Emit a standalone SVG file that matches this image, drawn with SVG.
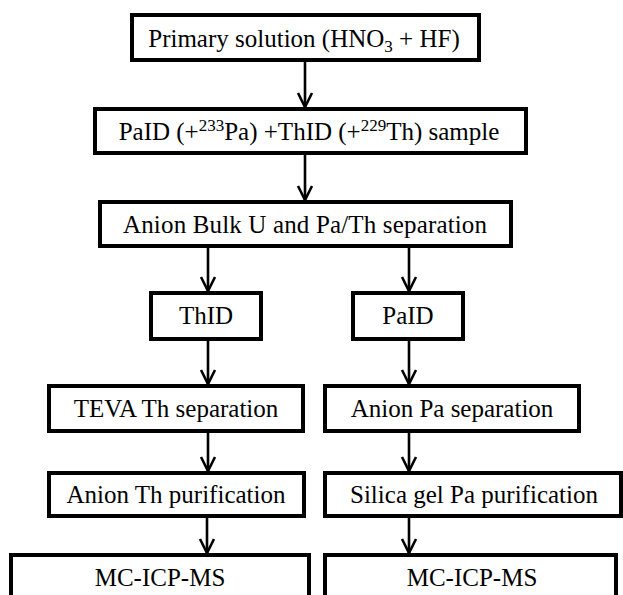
<svg xmlns="http://www.w3.org/2000/svg" width="623" height="595" viewBox="0 0 623 595">
<style>
.box{fill:#fff;stroke:#000;stroke-width:4}
.t{font-family:'Liberation Serif','Times New Roman','DejaVu Serif',serif;font-size:25px;fill:#000;text-anchor:middle}
.s{font-size:17px}
.c{stroke:#000;stroke-width:2.6;fill:none}
</style>
<defs>
<marker id="ah" markerUnits="userSpaceOnUse" markerWidth="20" markerHeight="20" refX="15" refY="8" orient="auto" overflow="visible">
<path d="M1,1 L15,8 L1,15" fill="none" stroke="#000" stroke-width="2.6"/>
</marker>
</defs>
<rect width="623" height="595" fill="#fff"/>
<g id="connectors">
<line class="c" x1="305" y1="62" x2="305" y2="107" marker-end="url(#ah)"/>
<line class="c" x1="305" y1="155" x2="305" y2="200" marker-end="url(#ah)"/>
<line class="c" x1="208" y1="248" x2="208" y2="291" marker-end="url(#ah)"/>
<line class="c" x1="409" y1="248" x2="409" y2="291" marker-end="url(#ah)"/>
<line class="c" x1="208" y1="341" x2="208" y2="384" marker-end="url(#ah)"/>
<line class="c" x1="409" y1="341" x2="409" y2="384" marker-end="url(#ah)"/>
<line class="c" x1="208" y1="433" x2="208" y2="471" marker-end="url(#ah)"/>
<line class="c" x1="409" y1="433" x2="409" y2="471" marker-end="url(#ah)"/>
<line class="c" x1="207" y1="518" x2="207" y2="553" marker-end="url(#ah)"/>
<line class="c" x1="409" y1="518" x2="409" y2="553" marker-end="url(#ah)"/>
</g>
<g id="n1"><rect class="box" x="132" y="15" width="347" height="45"/>
<text class="t" font-family="Liberation Serif, serif" x="304" y="46.5">Primary solution (HNO<tspan class="s" dy="5">3</tspan><tspan dy="-5"> + HF)</tspan></text></g>
<g id="n2"><rect class="box" x="95" y="109" width="431" height="44"/>
<text class="t" x="309" y="140">PaID (+<tspan class="s" dy="-9">233</tspan><tspan dy="9">Pa) +ThID (+</tspan><tspan class="s" dy="-9">229</tspan><tspan dy="9">Th) sample</tspan></text></g>
<g id="n3"><rect class="box" x="100" y="202" width="411" height="44"/>
<text class="t" x="305" y="232.5" textLength="364" lengthAdjust="spacing">Anion Bulk U and Pa/Th separation</text></g>
<g id="n4"><rect class="box" x="151" y="293" width="110" height="46"/>
<text class="t" x="206" y="324">ThID</text></g>
<g id="n5"><rect class="box" x="353" y="293" width="110" height="46"/>
<text class="t" x="408" y="324">PaID</text></g>
<g id="n6"><rect class="box" x="49" y="386" width="254" height="45"/>
<text class="t" x="176" y="417">TEVA Th separation</text></g>
<g id="n7"><rect class="box" x="325" y="386" width="254" height="45"/>
<text class="t" x="452" y="417">Anion Pa separation</text></g>
<g id="n8"><rect class="box" x="49" y="473" width="255" height="43"/>
<text class="t" x="176" y="503">Anion Th purification</text></g>
<g id="n9"><rect class="box" x="325" y="473" width="296" height="43"/>
<text class="t" x="474" y="503" textLength="248" lengthAdjust="spacing">Silica  gel Pa purification</text></g>
<g id="n10"><rect class="box" x="11" y="555" width="298" height="60"/>
<text class="t" x="160" y="586">MC-ICP-MS</text></g>
<g id="n11"><rect class="box" x="325" y="555" width="291" height="60"/>
<text class="t" x="472" y="586">MC-ICP-MS</text></g>
</svg>
